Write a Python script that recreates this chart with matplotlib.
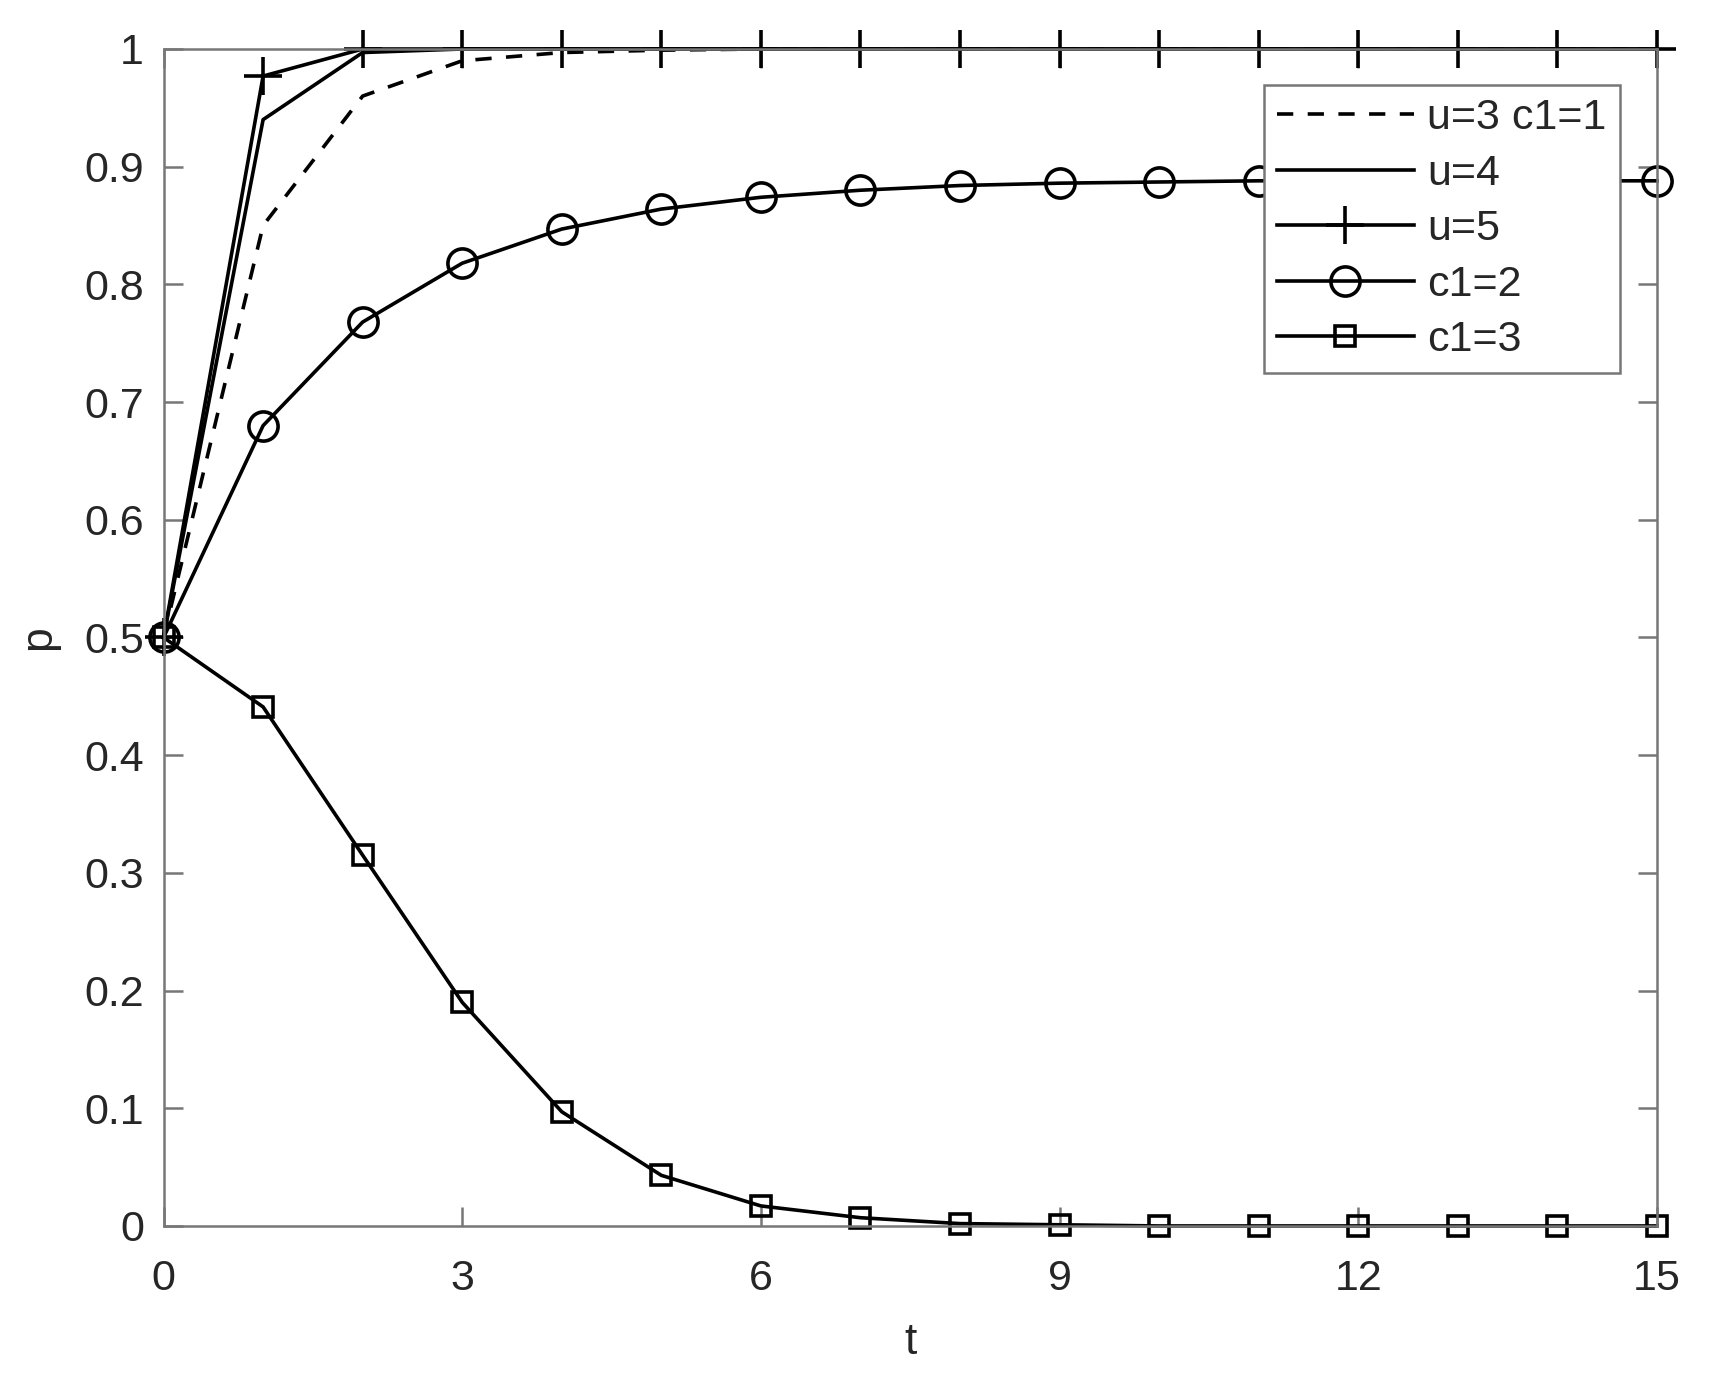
import numpy as np
import matplotlib.pyplot as plt

plt.rcParams['font.family'] = ['Liberation Sans', 'DejaVu Sans']

t = np.arange(0, 16)
p_u3 = [0.5, 0.85, 0.96, 0.99, 0.997, 0.999, 1.0, 1.0, 1.0, 1.0, 1.0, 1.0, 1.0, 1.0, 1.0, 1.0]
p_u4 = [0.5, 0.94, 0.997, 1.0, 1.0, 1.0, 1.0, 1.0, 1.0, 1.0, 1.0, 1.0, 1.0, 1.0, 1.0, 1.0]
p_u5 = [0.5, 0.977, 1.0, 1.0, 1.0, 1.0, 1.0, 1.0, 1.0, 1.0, 1.0, 1.0, 1.0, 1.0, 1.0, 1.0]
p_c2 = [0.5, 0.68, 0.768, 0.818, 0.847, 0.864, 0.874, 0.880, 0.884, 0.886, 0.887, 0.888, 0.888, 0.888, 0.888, 0.888]
p_c3 = [0.5, 0.441, 0.315, 0.19, 0.097, 0.043, 0.017, 0.007, 0.002, 0.001, 0.0, 0.0, 0.0, 0.0, 0.0, 0.0]

fig = plt.figure(figsize=(17.09, 13.84), dpi=100)
ax = fig.add_axes([0.0957, 0.1142, 0.8738, 0.8504])

lw = 2.6
ax.plot(t, p_u3, 'k--', lw=lw, dashes=(4.5, 4), label='u=3 c1=1', clip_on=False)
ax.plot(t, p_u4, 'k-', lw=lw, label='u=4', clip_on=False)
ax.plot(t, p_u5, 'k-', lw=lw, marker='+', ms=28, mew=2.6, label='u=5', clip_on=False)
ax.plot(t, p_c2, 'k-', lw=lw, marker='o', ms=21, mfc='none', mew=2.6, label='c1=2', clip_on=False)
ax.plot(t, p_c3, 'k-', lw=lw, marker='s', ms=14, mfc='none', mew=2.6, label='c1=3', clip_on=False)

ax.set_xlim(0, 15)
ax.set_ylim(0, 1)
ax.set_xticks([0, 3, 6, 9, 12, 15])
ax.set_yticks(np.arange(0, 1.01, 0.1))
ax.set_yticklabels(['0', '0.1', '0.2', '0.3', '0.4', '0.5', '0.6', '0.7', '0.8', '0.9', '1'])
ax.tick_params(direction='in', top=True, right=True, length=14, width=1.8,
               colors='#777777', labelsize=31, labelcolor='#262626')
ax.tick_params(axis='x', pad=24)
ax.tick_params(axis='y', pad=14)
for s in ax.spines.values():
    s.set_color('#777777')
    s.set_linewidth(1.8)
ax.set_xlabel('t', fontsize=32, color='#262626', labelpad=16)
ax.set_ylabel('p', fontsize=32, color='#262626', labelpad=18)

leg = ax.legend(loc='upper right', bbox_to_anchor=(0.975, 0.969), borderaxespad=0,
                fontsize=31, handlelength=3.2, fancybox=False, framealpha=1,
                borderpad=0.3, labelspacing=0.36, handletextpad=0.3)
leg.get_frame().set_edgecolor('#777777')
leg.get_frame().set_linewidth(1.8)
for txt in leg.get_texts():
    txt.set_color('#262626')

fig.savefig('out.png', dpi=100)
